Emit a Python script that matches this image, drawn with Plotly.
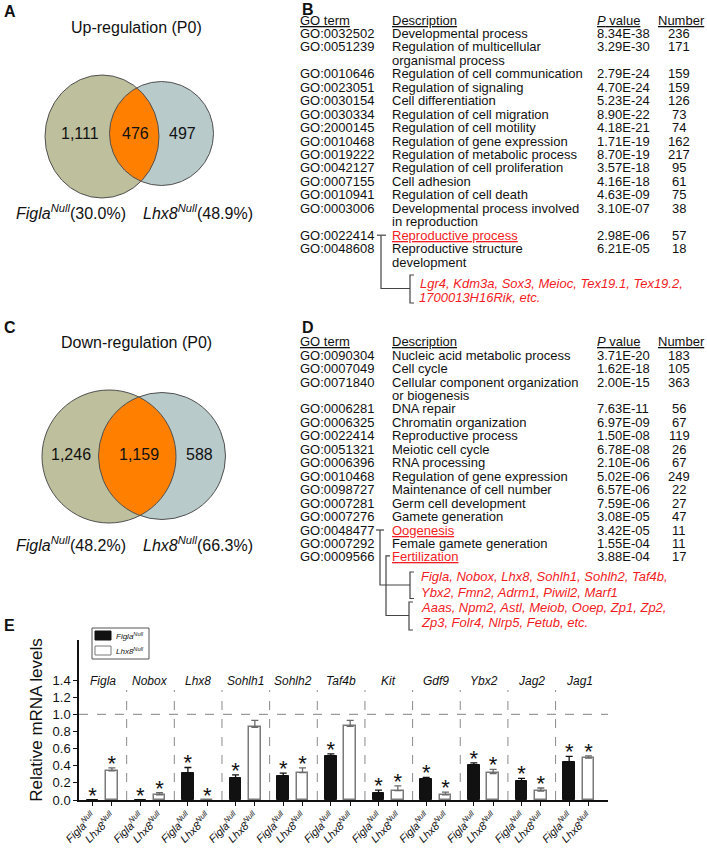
import numpy as np
import plotly.graph_objects as go

W, H = 707, 849
FONT = "Arial, 'Liberation Sans', sans-serif"
RED = "#F21C24"

# ---------------- Data ----------------
# Venn (A, C)
up_counts = [1111, 476, 497]
up_pct = [30.0, 48.9]
down_counts = [1246, 1159, 588]
down_pct = [48.2, 66.3]
genotypes = ["Figla", "Lhx8"]

# GO table B (up-regulated)
go_B = ["GO:0032502", "GO:0051239", "GO:0010646", "GO:0023051", "GO:0030154",
        "GO:0030334", "GO:2000145", "GO:0010468", "GO:0019222", "GO:0042127",
        "GO:0007155", "GO:0010941", "GO:0003006", "GO:0022414", "GO:0048608"]
desc_B = ["Developmental process", "Regulation of multicellular|organismal process",
          "Regulation of cell communication", "Regulation of signaling",
          "Cell differentiation", "Regulation of cell migration",
          "Regulation of cell motility", "Regulation of gene expression",
          "Regulation of metabolic process", "Regulation of cell proliferation",
          "Cell adhesion", "Regulation of cell death",
          "Developmental process involved|in reproduction", "Reproductive process",
          "Reproductive structure|development"]
pval_B = ["8.34E-38", "3.29E-30", "2.79E-24", "4.70E-24", "5.23E-24", "8.90E-22",
          "4.18E-21", "1.71E-19", "8.70E-19", "3.57E-18", "4.16E-18", "4.63E-09",
          "3.10E-07", "2.98E-06", "6.21E-05"]
num_B = [236, 171, 159, 159, 126, 73, 74, 162, 217, 95, 61, 75, 38, 57, 18]
highlight_B = ["GO:0022414"]
genes_B = [["Lgr4, Kdm3a, Sox3, Meioc, Tex19.1, Tex19.2,", "1700013H16Rik, etc."]]

# GO table D (down-regulated)
go_D = ["GO:0090304", "GO:0007049", "GO:0071840", "GO:0006281", "GO:0006325",
        "GO:0022414", "GO:0051321", "GO:0006396", "GO:0010468", "GO:0098727",
        "GO:0007281", "GO:0007276", "GO:0048477", "GO:0007292", "GO:0009566"]
desc_D = ["Nucleic acid metabolic process", "Cell cycle",
          "Cellular component organization|or biogenesis", "DNA repair",
          "Chromatin organization", "Reproductive process", "Meiotic cell cycle",
          "RNA processing", "Regulation of gene expression",
          "Maintenance of cell number", "Germ cell development", "Gamete generation",
          "Oogenesis", "Female gamete generation", "Fertilization"]
pval_D = ["3.71E-20", "1.62E-18", "2.00E-15", "7.63E-11", "6.97E-09", "1.50E-08",
          "6.78E-08", "2.10E-06", "5.02E-06", "6.57E-06", "7.59E-06", "3.08E-05",
          "3.42E-05", "1.55E-04", "3.88E-04"]
num_D = [183, 105, 363, 56, 67, 119, 26, 67, 249, 22, 27, 47, 11, 11, 17]
highlight_D = ["GO:0048477", "GO:0009566"]
genes_D = [["Figla, Nobox, Lhx8, Sohlh1, Sohlh2, Taf4b,", "Ybx2, Fmn2, Adrm1, Piwil2, Marf1"],
           ["Aaas, Npm2, Astl, Meiob, Ooep, Zp1, Zp2,", "Zp3, Folr4, Nlrp5, Fetub, etc."]]

# qPCR (E)
genes = ["Figla", "Nobox", "Lhx8", "Sohlh1", "Sohlh2", "Taf4b", "Kit", "Gdf9", "Ybx2", "Jag2", "Jag1"]
figla_mean = [0.0, 0.0, 0.31, 0.26, 0.28, 0.51, 0.08, 0.24, 0.41, 0.22, 0.44]
figla_sem = [0.0, 0.0, 0.07, 0.033, 0.033, 0.03, 0.035, 0.023, 0.023, 0.032, 0.07]
lhx8_mean = [0.34, 0.06, 0.0, 0.85, 0.32, 0.86, 0.11, 0.06, 0.31, 0.105, 0.49]
lhx8_sem = [0.035, 0.025, 0.0, 0.08, 0.055, 0.07, 0.054, 0.032, 0.047, 0.035, 0.025]
figla_sig = [1, 1, 1, 1, 1, 1, 1, 1, 1, 1, 1]
lhx8_sig = [1, 1, 1, 0, 1, 0, 1, 1, 1, 1, 1]
y_ticks = [0.0, 0.2, 0.4, 0.6, 0.8, 1.0, 1.2, 1.4]

# ---------------- Figure ----------------
fig = go.Figure()
annotations = []
shapes = []


def txt(x, y, text, size=13, color="#111", xanchor="left", yanchor="middle", bold=False):
    annotations.append(dict(x=x, y=y, xref="x2", yref="y2", text=("<b>%s</b>" % text) if bold else text,
                            showarrow=False, xanchor=xanchor, yanchor=yanchor,
                            font=dict(family=FONT, size=size, color=color)))


def line(pts, color="#444", width=1.2):
    d = "M " + " L ".join("%.2f,%.2f" % p for p in pts)
    shapes.append(dict(type="path", path=d, xref="x2", yref="y2",
                       line=dict(color=color, width=width)))


def gname(g):
    return "<i>%s<sup>Null</sup></i>" % g


# ---------------- Venn diagrams ----------------
def venn(c1, c2, counts, pct, title, title_y, label_y, num_x):
    (x1, y1, rx1, ry1), (x2, y2, rx2, ry2) = c1, c2
    col1, col2, colL = "#BEBF9D", "#B9CACB", "#FF8000"
    for (x, y, rx, ry), col in [(c1, col1), (c2, col2)]:
        shapes.append(dict(type="circle", xref="x2", yref="y2", x0=x - rx, x1=x + rx,
                           y0=y - ry, y1=y + ry, fillcolor=col, line=dict(width=0)))
    t = np.linspace(-np.pi, np.pi, 2000)
    ex, ey = x1 + rx1 * np.cos(t), y1 + ry1 * np.sin(t)
    m1 = ((ex - x2) / rx2) ** 2 + ((ey - y2) / ry2) ** 2 <= 1
    t2 = np.linspace(0, 2 * np.pi, 2000)
    fx, fy = x2 + rx2 * np.cos(t2), y2 + ry2 * np.sin(t2)
    m2 = ((fx - x1) / rx1) ** 2 + ((fy - y1) / ry1) ** 2 <= 1
    pts = list(zip(ex[m1], ey[m1])) + list(zip(fx[m2], fy[m2]))
    d = "M " + " L ".join("%.2f,%.2f" % p for p in pts) + " Z"
    shapes.append(dict(type="path", path=d, xref="x2", yref="y2", fillcolor=colL,
                       line=dict(width=0)))
    for (x, y, rx, ry) in [c1, c2]:
        shapes.append(dict(type="circle", xref="x2", yref="y2", x0=x - rx, x1=x + rx,
                           y0=y - ry, y1=y + ry, line=dict(color="#505050", width=1)))
    txt(136, title_y, title, size=16, xanchor="center")
    for xx, c in zip(num_x, counts):
        txt(xx, (y1 + y2) / 2 - 2, "{:,}".format(c), size=16, xanchor="center")
    txt(14, label_y, "%s(%.1f%%)" % (gname(genotypes[0]), pct[0]), size=16)
    txt(141, label_y, "%s(%.1f%%)" % (gname(genotypes[1]), pct[1]), size=16)


venn((102, 136.5, 57, 61.5), (161.5, 133.5, 52, 52), up_counts, up_pct,
     "Up-regulation (P0)", 27, 212, [80, 135, 182])
venn((109, 456.5, 67, 66.5), (162, 456, 63.5, 63.5), down_counts, down_pct,
     "Down-regulation (P0)", 342, 544, [71, 139, 199])

# ---------------- GO tables ----------------
X_GO, X_DESC, X_P, X_N = 297.5, 390, 595, 679
STEP = 13.45


def table(y0, gos, descs, pvals, nums, highlights):
    txt(X_GO, y0, "<u>GO term</u>")
    txt(X_DESC, y0, "<u>Description</u>")
    txt(X_P, y0, "<u><i>P</i> value</u>")
    txt(X_N + 2, y0, "<u>Number</u>", xanchor="center")
    r = 1
    hl_y = {}
    for g, d, p, n in zip(gos, descs, pvals, nums):
        y = y0 + r * STEP
        txt(X_GO, y, g)
        lines = d.split("|")
        for k, ln in enumerate(lines):
            if g in highlights:
                txt(X_DESC, y + k * STEP, "<u>%s</u>" % ln, color=RED)
            else:
                txt(X_DESC, y + k * STEP, ln)
        txt(X_P, y, p)
        txt(X_N, y, str(n), xanchor="center")
        if g in highlights:
            hl_y[g] = y
        r += len(lines)
    return hl_y


def bracket(x, ytop, ybot):
    line([(x + 4, ytop), (x, ytop), (x, ybot), (x + 4, ybot)])


hlB = table(20, go_B, desc_B, pval_B, num_B, highlight_B)
yB = hlB["GO:0022414"]
line([(377, yB), (386, yB)])
line([(381, yB), (381, 288.5), (410, 288.5)])
bracket(410, 275, 303)
for k, s in enumerate(genes_B[0]):
    txt(418 - k, 283 + k * 14, "<i>%s</i>" % s, color=RED)

hlD = table(341.7, go_D, desc_D, pval_D, num_D, highlight_D)
yO = hlD["GO:0048477"]
yF = hlD["GO:0009566"]
line([(376, yO), (384, yO)])
line([(380, yO), (380, 585), (410, 585)])
bracket(410, 572, 598.5)
line([(390, yF - 1), (386, yF - 1), (386, 615.5), (409, 615.5)])
bracket(409, 602, 630)
for j, grp in enumerate(genes_D):
    for k, s in enumerate(grp):
        txt(419, 576.7 + (2 * j + k) * 15.3, "<i>%s</i>" % s, color=RED)

# Panel letters
for L, (x, y) in {"A": (2, 11), "B": (300, 9), "C": (2, 327), "D": (300, 327), "E": (2, 625)}.items():
    txt(x, y, L, size=16, bold=True)

# ---------------- Panel E bar chart ----------------
n = len(genes)
idx = np.arange(n)
OFF_F, OFF_L, BW = -0.215, 0.19, 0.24
xf = idx + OFF_F
xl = idx + OFF_L

FIG_COL, LHX_LINE = "#111111", "#7a7a7a"
fig.add_trace(go.Bar(x=xf, y=figla_mean, width=BW, name=gname("Figla"),
                     marker=dict(color=FIG_COL, line=dict(color=FIG_COL, width=1)),
                     error_y=dict(type="data", symmetric=False, array=figla_sem,
                                  arrayminus=[0] * n, color=FIG_COL, thickness=1.3, width=3.5),
                     xaxis="x", yaxis="y", showlegend=False))
fig.add_trace(go.Bar(x=xl, y=lhx8_mean, width=BW, name=gname("Lhx8"),
                     marker=dict(color="white", line=dict(color=LHX_LINE, width=1.5)),
                     error_y=dict(type="data", symmetric=False, array=lhx8_sem,
                                  arrayminus=[0] * n, color="#6a6a6a", thickness=1.3, width=3.5),
                     xaxis="x", yaxis="y", showlegend=False))

sx, sy = [], []
for i in range(n):
    if figla_sig[i]:
        sx.append(xf[i]); sy.append(figla_mean[i] + figla_sem[i] + 0.03)
    if lhx8_sig[i]:
        sx.append(xl[i]); sy.append(lhx8_mean[i] + lhx8_sem[i] + 0.03)
fig.add_trace(go.Scatter(x=sx, y=sy, mode="text", text=["*"] * len(sx),
                         textposition="middle center",
                         textfont=dict(family=FONT, size=22, color="#111"),
                         showlegend=False, hoverinfo="skip", xaxis="x", yaxis="y"))

# group labels
for i, g in enumerate(genes):
    annotations.append(dict(x=i, y=1.39, xref="x", yref="y", text="<i>%s</i>" % g,
                            showarrow=False, xanchor="center", yanchor="middle",
                            font=dict(family=FONT, size=12, color="#111")))
# separators + reference line
for i in range(n - 1):
    shapes.append(dict(type="line", xref="x", yref="y", x0=i + 0.5, x1=i + 0.5, y0=0, y1=1.285,
                       line=dict(color="#8a8a8a", width=1, dash="dash"), layer="below"))
shapes.append(dict(type="line", xref="x", yref="y", x0=-0.5, x1=10.6, y0=1.0, y1=1.0,
                   line=dict(color="#9a9a9a", width=1.3, dash="dash"), layer="below"))

# legend box (manual)
shapes.append(dict(type="rect", xref="x2", yref="y2", x0=92, x1=149, y0=628, y1=659,
                   line=dict(color="#555", width=1), fillcolor="white"))
shapes.append(dict(type="rect", xref="x2", yref="y2", x0=95, x1=111, y0=631, y1=640,
                   line=dict(color=FIG_COL, width=1), fillcolor=FIG_COL))
shapes.append(dict(type="rect", xref="x2", yref="y2", x0=95, x1=111, y0=646, y1=655,
                   line=dict(color=LHX_LINE, width=1), fillcolor="white"))
txt(114, 635.5, gname("Figla"), size=8)
txt(114, 650.5, gname("Lhx8"), size=8)

tickvals = []
ticktext = []
for i in range(n):
    tickvals += [xf[i], xl[i]]
    ticktext += [gname("Figla"), gname("Lhx8")]

# overlay axes dummy trace
fig.add_trace(go.Scatter(x=[0], y=[0], mode="markers", marker=dict(opacity=0),
                         showlegend=False, hoverinfo="skip", xaxis="x2", yaxis="y2"))

fig.update_layout(
    width=W, height=H, margin=dict(l=0, r=0, t=0, b=0, pad=0), autosize=False,
    paper_bgcolor="white", plot_bgcolor="rgba(0,0,0,0)",
    font=dict(family=FONT, color="#111"),
    barmode="overlay", bargap=0, showlegend=False,
    xaxis=dict(domain=[79 / W, 608 / W], anchor="y", range=[-0.5, 10.6], automargin=False,
               showline=True, linecolor="#111", linewidth=1.5, showgrid=False, zeroline=False,
               tickvals=tickvals, ticktext=ticktext, tickangle=-45,
               ticks="outside", ticklen=4, tickcolor="#111",
               tickfont=dict(family=FONT, size=11, color="#111")),
    yaxis=dict(domain=[1 - 800 / H, 1 - 640 / H], anchor="x", range=[0, 1.87], automargin=False,
               showline=True, linecolor="#111", linewidth=1.5, showgrid=False, zeroline=False,
               tickvals=y_ticks, ticktext=["%.1f" % v for v in y_ticks],
               ticks="outside", ticklen=4, tickcolor="#111",
               tickfont=dict(family=FONT, size=13, color="#111"),
               title=dict(text="Relative mRNA levels", standoff=6,
                          font=dict(family=FONT, size=17, color="#111"))),
    xaxis2=dict(domain=[0, 1], range=[0, W], visible=False, anchor="y2", fixedrange=True,
                automargin=False),
    yaxis2=dict(domain=[0, 1], range=[H, 0], visible=False, anchor="x2", fixedrange=True,
                automargin=False),
    annotations=annotations, shapes=shapes,
)

fig.write_html("out.html", config={"displayModeBar": False},
               post_script="document.body.style.margin='0px';")
